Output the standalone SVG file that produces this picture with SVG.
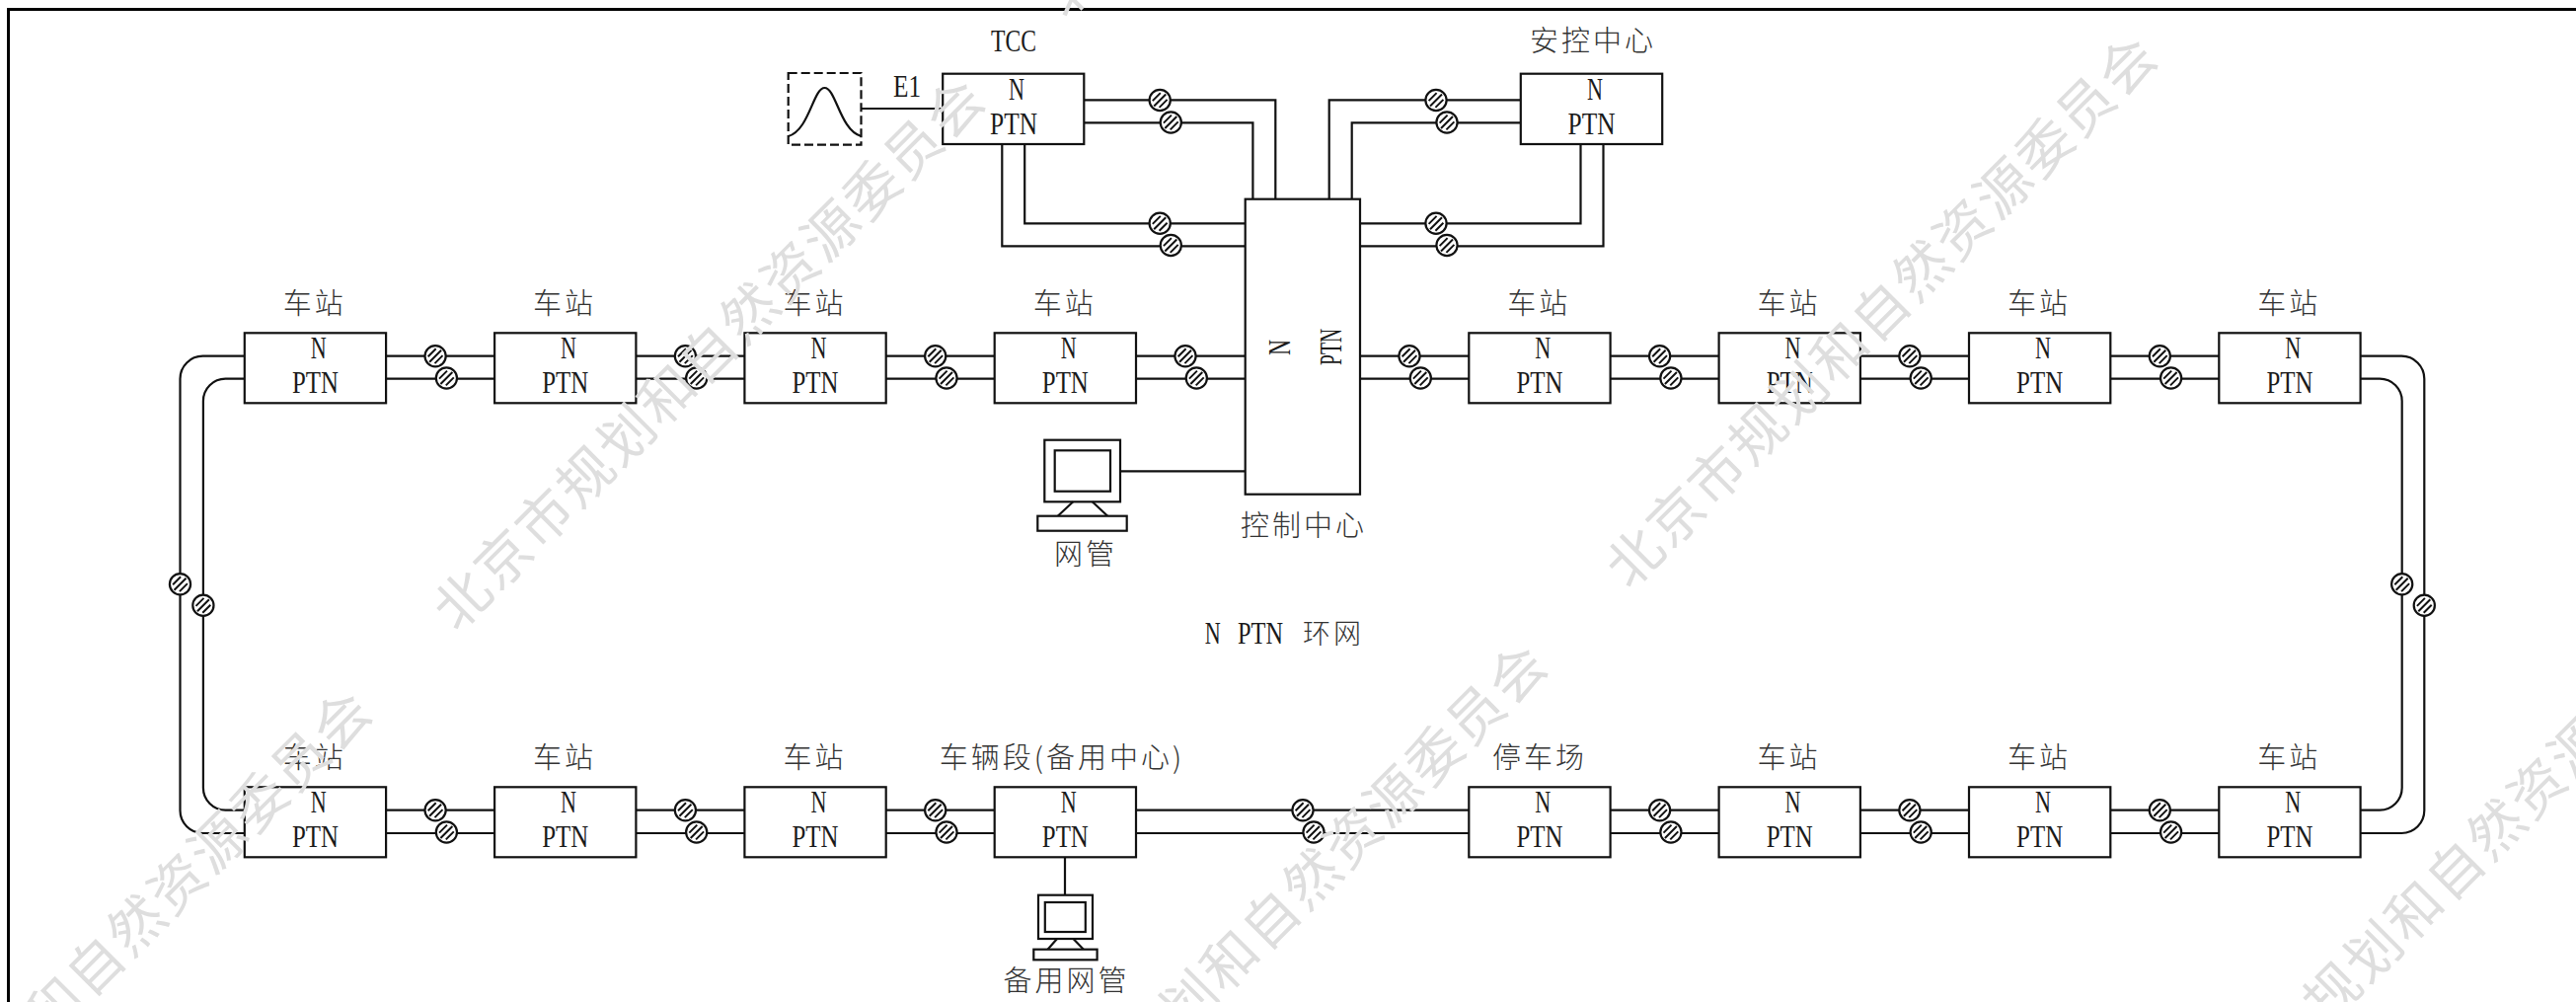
<svg xmlns="http://www.w3.org/2000/svg" width="2610" height="1015" viewBox="0 0 2610 1015">
<style>
text{font-family:"Liberation Serif","Noto Sans CJK SC",serif;fill:#1a1a1a}
.box{fill:#fff;stroke:#111;stroke-width:2.2}
.line{fill:none;stroke:#111;stroke-width:2.2}
.n,.p{font-size:32px;text-anchor:middle}
.lb{font-family:"Noto Sans CJK SC","Noto Sans CJK JP",sans-serif;font-size:29px;letter-spacing:3px;text-anchor:middle;font-weight:300;fill:#333}
.wm{font-family:"Noto Sans CJK SC",sans-serif;font-size:56px;letter-spacing:2.7px;text-anchor:middle;fill:#dedede}
</style>
<defs>
<g id="coupler"><circle r="10.6" fill="#fff" stroke="#111" stroke-width="2.2"/><path d="M-6 6L6-6M-7.4 .6L.6-7.4M-.6 7.4L7.4-.6" fill="none" stroke="#111" stroke-width="2"/></g>
</defs>
<rect width="2610" height="1015" fill="#fff"/>
<path id="frame" d="M2610 9.5H8.5V1015" fill="none" stroke="#000" stroke-width="3"/>
<g id="connectors" class="line">
<path class="line" d="M391.1 360.7H501.1M391.1 383.7H501.1M644.4 360.7H754.4M644.4 383.7H754.4M897.7 360.7H1007.7M897.7 383.7H1007.7M1151 360.7H1262M1151 383.7H1262M1378 360.7H1488.3M1378 383.7H1488.3M1631.6 360.7H1741.6M1631.6 383.7H1741.6M1884.9 360.7H1995M1884.9 383.7H1995M2138.3 360.7H2248.3M2138.3 383.7H2248.3"/>
<path class="line" d="M391.1 820.7H501.1M391.1 844H501.1M644.4 820.7H754.4M644.4 844H754.4M897.7 820.7H1007.7M897.7 844H1007.7M1151 820.7H1488.3M1151 844H1488.3M1631.6 820.7H1741.6M1631.6 844H1741.6M1884.9 820.7H1995M1884.9 844H1995M2138.3 820.7H2248.3M2138.3 844H2248.3"/>
<path class="line" d="M247.8 360.7H205.5A23 23 0 0 0 182.5 383.7V821A23 23 0 0 0 205.5 844H247.8"/>
<path class="line" d="M247.8 383.7H228.5A22.6 22.6 0 0 0 205.9 406.3V798.1A22.6 22.6 0 0 0 228.5 820.7H247.8"/>
<path class="line" d="M2391.3 360.7H2433.3A23 23 0 0 1 2456.3 383.7V821A23 23 0 0 1 2433.3 844H2391.3"/>
<path class="line" d="M2391.3 383.7H2411.1A22.6 22.6 0 0 1 2433.7 406.3V798.1A22.6 22.6 0 0 1 2411.1 820.7H2391.3"/>
<path class="line" d="M1098.3 101.3H1292.3V201.7M1098.3 124.3H1269.4V201.7M1038.2 146V226.3H1262M1015.3 146V249.3H1262"/>
<path class="line" d="M1540.8 101.3H1346.7V201.7M1540.8 124.3H1369.7V201.7M1601.5 146V226.3H1378M1624.5 146V249.3H1378"/>
<path class="line" d="M872.5 110H955.2M1135 477.3H1262M1079 868.3V906.7"/>
</g>
<g id="couplers">
<use href="#coupler" x="441.1" y="360.7"/><use href="#coupler" x="452.4" y="383"/>
<use href="#coupler" x="694.4" y="360.7"/><use href="#coupler" x="705.7" y="383"/>
<use href="#coupler" x="947.7" y="360.7"/><use href="#coupler" x="959" y="383"/>
<use href="#coupler" x="1201" y="360.7"/><use href="#coupler" x="1212.3" y="383"/>
<use href="#coupler" x="1428" y="360.7"/><use href="#coupler" x="1439.3" y="383"/>
<use href="#coupler" x="1681.6" y="360.7"/><use href="#coupler" x="1692.9" y="383"/>
<use href="#coupler" x="1934.9" y="360.7"/><use href="#coupler" x="1946.2" y="383"/>
<use href="#coupler" x="2188.3" y="360.7"/><use href="#coupler" x="2199.6" y="383"/>
<use href="#coupler" x="441.1" y="820.7"/><use href="#coupler" x="452.4" y="843"/>
<use href="#coupler" x="694.4" y="820.7"/><use href="#coupler" x="705.7" y="843"/>
<use href="#coupler" x="947.7" y="820.7"/><use href="#coupler" x="959" y="843"/>
<use href="#coupler" x="1320" y="820.7"/><use href="#coupler" x="1331" y="843"/>
<use href="#coupler" x="1681.6" y="820.7"/><use href="#coupler" x="1692.9" y="843"/>
<use href="#coupler" x="1934.9" y="820.7"/><use href="#coupler" x="1946.2" y="843"/>
<use href="#coupler" x="2188.3" y="820.7"/><use href="#coupler" x="2199.6" y="843"/>
<use href="#coupler" x="182.5" y="591.7"/><use href="#coupler" x="205.9" y="613.3"/>
<use href="#coupler" x="2433.7" y="591.7"/><use href="#coupler" x="2456.3" y="613.3"/>
<use href="#coupler" x="1175.2" y="101.5"/><use href="#coupler" x="1186.3" y="124"/>
<use href="#coupler" x="1175.2" y="226.3"/><use href="#coupler" x="1186.3" y="248.5"/>
<use href="#coupler" x="1455" y="101.5"/><use href="#coupler" x="1466" y="124"/>
<use href="#coupler" x="1455" y="226.3"/><use href="#coupler" x="1466" y="248.5"/>
</g>
<g id="tcc"><rect class="box" x="955.2" y="74.7" width="143.1" height="71.3"/><text class="n" x="1027" y="52.3" textLength="46" lengthAdjust="spacingAndGlyphs">TCC</text><text class="n" x="1030" y="100.5" textLength="16" lengthAdjust="spacingAndGlyphs">N</text><text class="p" x="1027" y="136" textLength="48" lengthAdjust="spacingAndGlyphs">PTN</text></g>
<g id="security"><rect class="box" x="1540.8" y="74.7" width="143.4" height="71.3"/><text class="lb" x="1614" y="52">安控中心</text><text class="n" x="1616" y="100.5" textLength="16" lengthAdjust="spacingAndGlyphs">N</text><text class="p" x="1612.5" y="136" textLength="48" lengthAdjust="spacingAndGlyphs">PTN</text></g>
<g id="control"><rect class="box" x="1261.7" y="201.7" width="116.3" height="299"/><text class="n" transform="translate(1307,352) rotate(-90)" textLength="16" lengthAdjust="spacingAndGlyphs">N</text><text class="p" transform="translate(1359,351.4) rotate(-90)" textLength="37" lengthAdjust="spacingAndGlyphs">PTN</text><text class="lb" x="1321" y="543">控制中心</text></g>
<g id="sta-t1"><rect class="box" x="247.8" y="337.3" width="143.3" height="71"/><text class="lb" x="318.8" y="318">车站</text><text class="n" x="322.8" y="362.7" textLength="16" lengthAdjust="spacingAndGlyphs">N</text><text class="p" x="319.4" y="398.3" textLength="47" lengthAdjust="spacingAndGlyphs">PTN</text></g>
<g id="sta-t2"><rect class="box" x="501.1" y="337.3" width="143.3" height="71"/><text class="lb" x="572.1" y="318">车站</text><text class="n" x="576.1" y="362.7" textLength="16" lengthAdjust="spacingAndGlyphs">N</text><text class="p" x="572.7" y="398.3" textLength="47" lengthAdjust="spacingAndGlyphs">PTN</text></g>
<g id="sta-t3"><rect class="box" x="754.4" y="337.3" width="143.3" height="71"/><text class="lb" x="825.4" y="318">车站</text><text class="n" x="829.4" y="362.7" textLength="16" lengthAdjust="spacingAndGlyphs">N</text><text class="p" x="826" y="398.3" textLength="47" lengthAdjust="spacingAndGlyphs">PTN</text></g>
<g id="sta-t4"><rect class="box" x="1007.7" y="337.3" width="143.3" height="71"/><text class="lb" x="1078.7" y="318">车站</text><text class="n" x="1082.7" y="362.7" textLength="16" lengthAdjust="spacingAndGlyphs">N</text><text class="p" x="1079.3" y="398.3" textLength="47" lengthAdjust="spacingAndGlyphs">PTN</text></g>
<g id="sta-t5"><rect class="box" x="1488.3" y="337.3" width="143.3" height="71"/><text class="lb" x="1559.3" y="318">车站</text><text class="n" x="1563.3" y="362.7" textLength="16" lengthAdjust="spacingAndGlyphs">N</text><text class="p" x="1559.9" y="398.3" textLength="47" lengthAdjust="spacingAndGlyphs">PTN</text></g>
<g id="sta-t6"><rect class="box" x="1741.6" y="337.3" width="143.3" height="71"/><text class="lb" x="1812.6" y="318">车站</text><text class="n" x="1816.6" y="362.7" textLength="16" lengthAdjust="spacingAndGlyphs">N</text><text class="p" x="1813.2" y="398.3" textLength="47" lengthAdjust="spacingAndGlyphs">PTN</text></g>
<g id="sta-t7"><rect class="box" x="1995" y="337.3" width="143.3" height="71"/><text class="lb" x="2066" y="318">车站</text><text class="n" x="2070" y="362.7" textLength="16" lengthAdjust="spacingAndGlyphs">N</text><text class="p" x="2066.6" y="398.3" textLength="47" lengthAdjust="spacingAndGlyphs">PTN</text></g>
<g id="sta-t8"><rect class="box" x="2248.3" y="337.3" width="143.3" height="71"/><text class="lb" x="2319.3" y="318">车站</text><text class="n" x="2323.3" y="362.7" textLength="16" lengthAdjust="spacingAndGlyphs">N</text><text class="p" x="2319.9" y="398.3" textLength="47" lengthAdjust="spacingAndGlyphs">PTN</text></g>
<g id="sta-b1"><rect class="box" x="247.8" y="797.3" width="143.3" height="71"/><text class="lb" x="318.8" y="778">车站</text><text class="n" x="322.8" y="822.7" textLength="16" lengthAdjust="spacingAndGlyphs">N</text><text class="p" x="319.4" y="858.3" textLength="47" lengthAdjust="spacingAndGlyphs">PTN</text></g>
<g id="sta-b2"><rect class="box" x="501.1" y="797.3" width="143.3" height="71"/><text class="lb" x="572.1" y="778">车站</text><text class="n" x="576.1" y="822.7" textLength="16" lengthAdjust="spacingAndGlyphs">N</text><text class="p" x="572.7" y="858.3" textLength="47" lengthAdjust="spacingAndGlyphs">PTN</text></g>
<g id="sta-b3"><rect class="box" x="754.4" y="797.3" width="143.3" height="71"/><text class="lb" x="825.4" y="778">车站</text><text class="n" x="829.4" y="822.7" textLength="16" lengthAdjust="spacingAndGlyphs">N</text><text class="p" x="826" y="858.3" textLength="47" lengthAdjust="spacingAndGlyphs">PTN</text></g>
<g id="depot"><rect class="box" x="1007.7" y="797.3" width="143.3" height="71"/><text class="lb" x="1076" y="778" style="letter-spacing:3px">车辆段(备用中心)</text><text class="n" x="1082.7" y="822.7" textLength="16" lengthAdjust="spacingAndGlyphs">N</text><text class="p" x="1079.3" y="858.3" textLength="47" lengthAdjust="spacingAndGlyphs">PTN</text></g>
<g id="yard"><rect class="box" x="1488.3" y="797.3" width="143.3" height="71"/><text class="lb" x="1560" y="778">停车场</text><text class="n" x="1563.3" y="822.7" textLength="16" lengthAdjust="spacingAndGlyphs">N</text><text class="p" x="1559.9" y="858.3" textLength="47" lengthAdjust="spacingAndGlyphs">PTN</text></g>
<g id="sta-b6"><rect class="box" x="1741.6" y="797.3" width="143.3" height="71"/><text class="lb" x="1812.6" y="778">车站</text><text class="n" x="1816.6" y="822.7" textLength="16" lengthAdjust="spacingAndGlyphs">N</text><text class="p" x="1813.2" y="858.3" textLength="47" lengthAdjust="spacingAndGlyphs">PTN</text></g>
<g id="sta-b7"><rect class="box" x="1995" y="797.3" width="143.3" height="71"/><text class="lb" x="2066" y="778">车站</text><text class="n" x="2070" y="822.7" textLength="16" lengthAdjust="spacingAndGlyphs">N</text><text class="p" x="2066.6" y="858.3" textLength="47" lengthAdjust="spacingAndGlyphs">PTN</text></g>
<g id="sta-b8"><rect class="box" x="2248.3" y="797.3" width="143.3" height="71"/><text class="lb" x="2319.3" y="778">车站</text><text class="n" x="2323.3" y="822.7" textLength="16" lengthAdjust="spacingAndGlyphs">N</text><text class="p" x="2319.9" y="858.3" textLength="47" lengthAdjust="spacingAndGlyphs">PTN</text></g>
<g id="e1-source"><rect x="798.7" y="74" width="73.8" height="72.7" fill="#fff" stroke="#111" stroke-width="2.2" stroke-dasharray="9 4"/><path class="line" d="M798.7 138C820 132 824 89 835.5 89C847 89 851 132 872.5 138"/><text class="n" x="919" y="97.7" textLength="28" lengthAdjust="spacingAndGlyphs">E1</text></g>
<g id="nms"><rect class="box" x="1058.3" y="445.7" width="76.7" height="62.6"/><rect class="box" x="1068.7" y="456.3" width="56.3" height="41.4"/><path class="line" d="M1087.3 508.3L1071.7 522.7M1106.7 508.3L1122.3 522.7"/><rect class="box" x="1051.3" y="522.7" width="90.4" height="15"/><text class="lb" x="1100" y="572">网管</text></g>
<g id="nms-backup"><rect class="box" x="1052" y="906.7" width="55" height="44.3"/><rect class="box" x="1058.8" y="914" width="41" height="30"/><path class="line" d="M1071 951L1061.5 961.7M1087.5 951L1097.9 961.7"/><rect class="box" x="1047.3" y="961.7" width="64.3" height="10.6"/><text class="lb" x="1080.5" y="1004">备用网管</text></g>
<text id="ring-label" y="651.7"><tspan x="1220.7" style="font-size:32px" textLength="16" lengthAdjust="spacingAndGlyphs">N</tspan><tspan x="1254" style="font-size:32px" textLength="46" lengthAdjust="spacingAndGlyphs">PTN</tspan><tspan x="1320" style="font-size:28px;font-family:'Noto Sans CJK SC',sans-serif;font-weight:300;letter-spacing:3px;fill:#333">环网</tspan></text>
<g id="watermark">
<text class="wm" transform="translate(718,357) rotate(-45)" y="21">北京市规划和自然资源委员会</text>
<text class="wm" transform="translate(1906,314) rotate(-45)" y="21">北京市规划和自然资源委员会</text>
<text class="wm" transform="translate(97,977) rotate(-45)" y="21">北京市规划和自然资源委员会</text>
<text class="wm" transform="translate(1288,930) rotate(-45)" y="21">北京市规划和自然资源委员会</text>
<text class="wm" transform="translate(2488,880) rotate(-45)" y="21">北京市规划和自然资源委员会</text>
<text class="wm" transform="translate(1335,-264) rotate(-45)" y="21">北京市规划和自然资源委员会</text>
</g>
</svg>
